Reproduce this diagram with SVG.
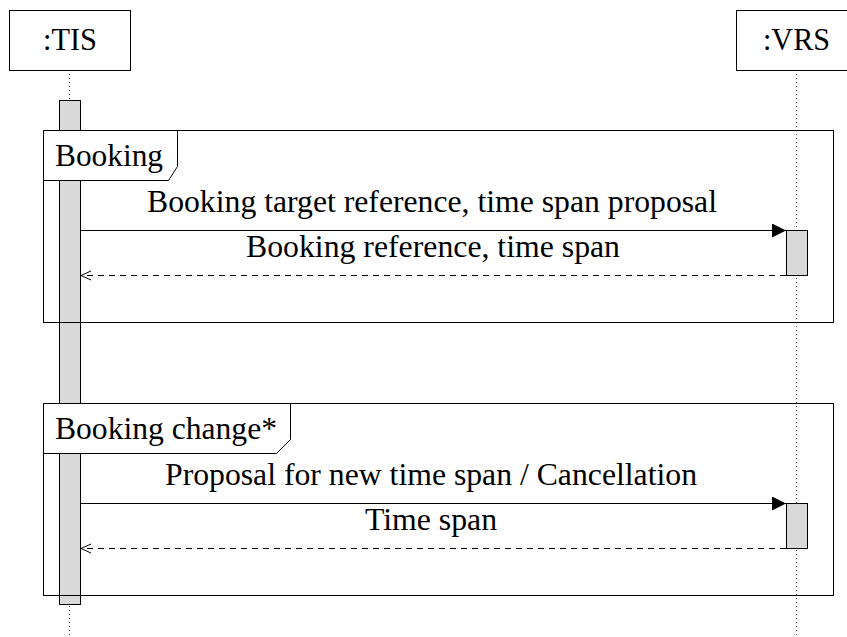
<svg xmlns="http://www.w3.org/2000/svg" width="847" height="637" viewBox="0 0 847 637">
<style>
text{font-family:"Liberation Serif","Times New Roman",serif;font-size:31px;fill:#000}
.box{fill:#fff;stroke:#000;stroke-width:1}
.life{stroke:#555;stroke-width:1;stroke-dasharray:1,3;fill:none}
.act{fill:#d9d9d9;stroke:#000;stroke-width:1}
.frame{fill:none;stroke:#000;stroke-width:1}
.tab{fill:#fff;stroke:#000;stroke-width:1}
.msg{stroke:#000;stroke-width:1;fill:none}
.ret{stroke:#000;stroke-width:1;fill:none;stroke-dasharray:6,5}
</style>
<defs>
<marker id="filled" markerWidth="15" markerHeight="15" refX="14" refY="7" orient="auto" markerUnits="userSpaceOnUse">
<path d="M0,0 L14,7 L0,14 Z" fill="#000"/>
</marker>
<marker id="open" markerWidth="12" markerHeight="12" refX="11" refY="6" orient="auto" markerUnits="userSpaceOnUse">
<path d="M1,1.5 L11,6 L1,10.5" fill="none" stroke="#000" stroke-width="1"/>
</marker>
</defs>
<g id="lifelines">
<line class="life" x1="69.5" y1="70" x2="69.5" y2="637"/>
<line class="life" x1="796.5" y1="70" x2="796.5" y2="637"/>
</g>
<g id="TIS">
<rect class="box" x="9.5" y="10.5" width="121" height="60"/>
<text x="43" y="50" textLength="54" lengthAdjust="spacingAndGlyphs">:TIS</text>
</g>
<g id="VRS">
<rect class="box" x="736.5" y="10.5" width="120" height="60"/>
<text x="763" y="50" textLength="67" lengthAdjust="spacingAndGlyphs">:VRS</text>
</g>
<g id="TIS-activation">
<rect class="act" x="59.5" y="100.5" width="21" height="504"/>
</g>
<g id="frame-booking">
<rect class="frame" x="43.5" y="130.5" width="790" height="192"/>
<path class="tab" d="M43.5,130.5 H177.5 V166.5 L168.5,180.5 H43.5 Z"/>
<text x="55" y="166" textLength="108" lengthAdjust="spacingAndGlyphs">Booking</text>
</g>
<g id="frame-booking-change">
<rect class="frame" x="43.5" y="403.5" width="790" height="192"/>
<path class="tab" d="M43.5,403.5 H290.5 V439.5 L276.5,453.5 H43.5 Z"/>
<text x="55" y="439" textLength="222" lengthAdjust="spacingAndGlyphs">Booking change*</text>
</g>
<g id="VRS-activation-1">
<rect class="act" x="786.5" y="230.5" width="21" height="45"/>
</g>
<g id="VRS-activation-2">
<rect class="act" x="786.5" y="503.5" width="21" height="45"/>
</g>
<g id="connectors">
<line class="msg" x1="81" y1="230.5" x2="786" y2="230.5" marker-end="url(#filled)"/>
<text x="147" y="212" textLength="570" lengthAdjust="spacingAndGlyphs">Booking target reference, time span proposal</text>
<line class="ret" x1="786" y1="275.5" x2="81" y2="275.5" marker-end="url(#open)"/>
<text x="246" y="257" textLength="374" lengthAdjust="spacingAndGlyphs">Booking reference, time span</text>
<line class="msg" x1="81" y1="503.5" x2="786" y2="503.5" marker-end="url(#filled)"/>
<text x="165" y="485" textLength="532" lengthAdjust="spacingAndGlyphs">Proposal for new time span / Cancellation</text>
<line class="ret" x1="786" y1="548.5" x2="81" y2="548.5" marker-end="url(#open)"/>
<text x="365" y="530" textLength="132" lengthAdjust="spacingAndGlyphs">Time span</text>
</g>
</svg>
